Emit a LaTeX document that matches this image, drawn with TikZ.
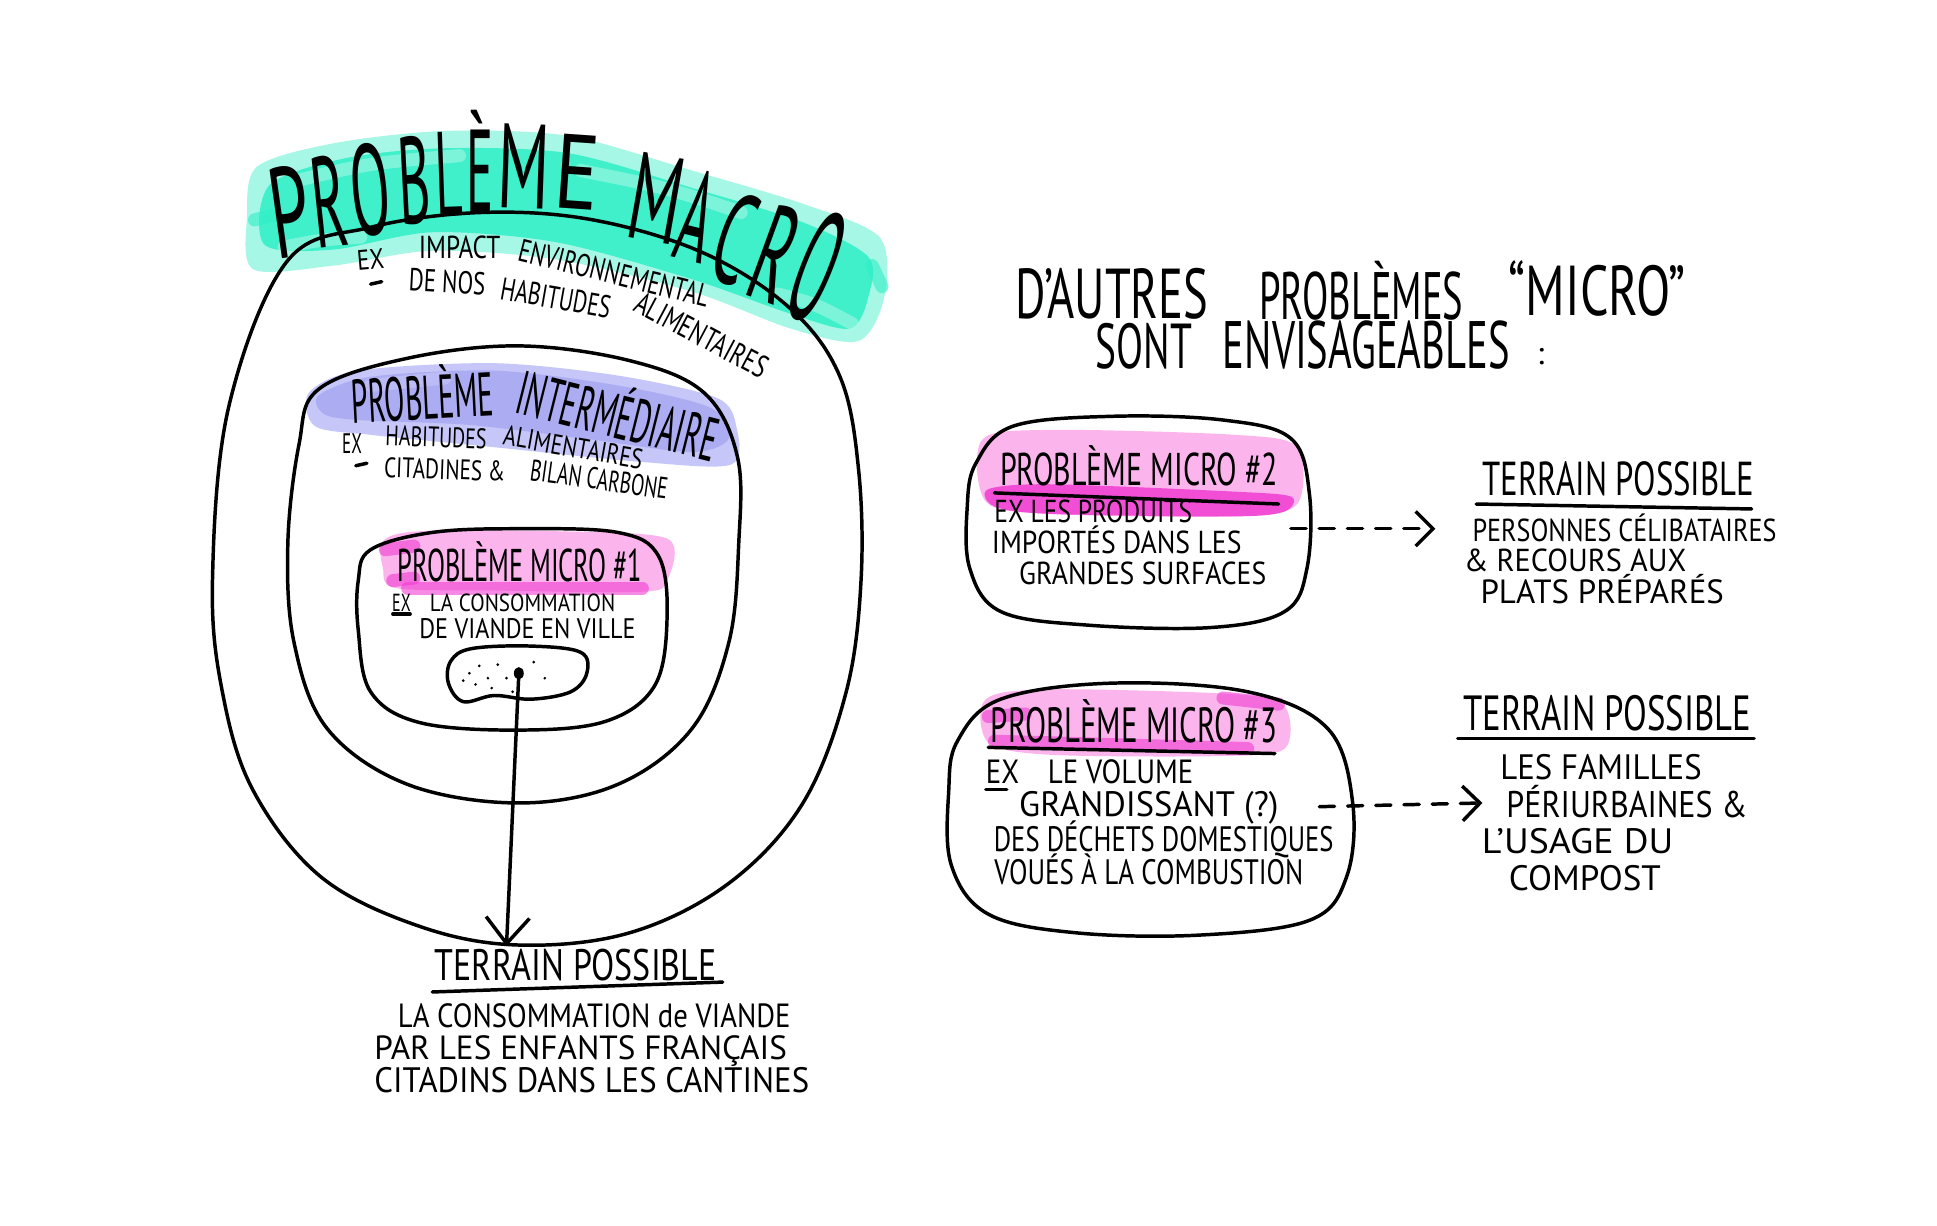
\documentclass[tikz,border=0pt]{standalone}
\usepackage{graphicx}
\usepackage{fontspec}
\setmainfont{PT Sans}
\usetikzlibrary{arrows.meta,calc}
\newlength\upx \setlength\upx{0.1mm}
\newcommand{\hwt}[3]{\resizebox{#1\upx}{#2\upx}{\smash{#3}\vphantom{X}}}
\definecolor{tealL}{HTML}{A6F7E6}
\definecolor{tealD}{HTML}{2EEFC6}
\definecolor{blueL}{HTML}{C6C6F9}
\definecolor{blueD}{HTML}{9898EE}
\definecolor{pinkL}{HTML}{FBB5EC}
\definecolor{pinkD}{HTML}{F03CD2}
\tikzset{
  ink/.style={draw=black, line width=0.8pt, line cap=round, line join=round},
  hw/.style={inner sep=0pt, outer sep=0pt, text=black},
  streak/.style={line width=3pt, line cap=round, opacity=0.6},
  dasharrow/.style={ink, dash pattern=on 3.5pt off 3pt, -{Straight Barb[length=4pt,width=8pt]}},
  solidarrow/.style={ink, -{Straight Barb[length=6pt,width=10pt]}},
}
\begin{document}
\begin{tikzpicture}[x=0.1mm,y=-0.1mm]
\useasboundingbox (0,0) rectangle (1568,992);
\fill[white] (0,0) rectangle (1568,992);

% ---------- highlight bands ----------
\fill[tealL] plot[smooth cycle, tension=0.5] coordinates {(208,135) (270,116) (360,106) (460,110) (560,138) (650,165) (712,192) (716,240) (695,276) (640,266) (560,236) (450,210) (350,203) (270,215) (205,218) (200,175)};
\fill[tealD, opacity=0.85] plot[smooth cycle, tension=0.5] coordinates {(218,150) (280,128) (360,120) (460,124) (560,152) (650,180) (703,208) (703,240) (688,266) (640,254) (560,226) (450,196) (350,188) (270,202) (214,198)};
\draw[tealL, streak] (245,145) .. controls (300,132) .. (372,126);
\draw[tealL, streak] (470,138) .. controls (540,152) .. (600,172);
\draw[tealL, streak] (230,200) .. controls (260,194) .. (292,192);
\draw[tealL, streak] (630,238) .. controls (660,246) .. (690,262);
\draw[tealD, streak] (206,178) -- (222,174);
\draw[tealD, streak] (706,215) -- (714,232);
\fill[blueL] plot[smooth cycle, tension=0.5] coordinates {(250,318) (290,300) (400,294) (500,304) (580,322) (596,345) (592,376) (520,374) (400,362) (300,352) (255,345)};
\fill[blueD, opacity=0.55] plot[smooth cycle, tension=0.5] coordinates {(258,320) (300,305) (400,300) (500,312) (575,330) (590,355) (560,366) (480,356) (380,344) (290,340) (262,335)};
\draw[blueL, streak] (300,312) -- (360,306);
\fill[pinkL] plot[smooth cycle, tension=0.5] coordinates {(310,438) (340,430) (450,430) (540,436) (540,470) (520,479) (400,478) (320,476) (310,460)};
\draw[pinkD, streak] (312,445) -- (335,442);
\draw[pinkD, streak] (318,470) -- (335,468);
\draw[pinkD, streak] (330,476) -- (520,476);
\fill[pinkL] plot[smooth cycle, tension=0.5] coordinates {(795,356) (850,348) (1000,352) (1050,362) (1050,408) (1000,418) (850,416) (798,406)};
\fill[pinkD, opacity=0.85] plot[smooth cycle, tension=0.5] coordinates {(800,396) (850,392) (1000,398) (1045,402) (1040,414) (1000,418) (850,416) (805,410)};
\fill[pinkL] plot[smooth cycle, tension=0.5] coordinates {(798,566) (850,558) (1000,562) (1040,572) (1040,606) (990,612) (850,611) (800,601)};
\draw[pinkD, streak] (800,580) -- (830,578);
\draw[pinkD, streak] (805,600) -- (1010,606);
\draw[pinkD, streak] (990,565) -- (1035,570);

% ---------- outlines ----------
\draw[ink] plot[smooth cycle, tension=0.6] coordinates {(232,212) (300,184) (390,172) (480,178) (570,205) (640,250) (680,305) (695,380) (697,470) (685,560) (650,650) (590,715) (510,755) (420,765) (340,750) (260,710) (205,640) (180,560) (172,470) (185,330)};
\draw[ink] plot[smooth cycle, tension=0.6] coordinates {(258,315) (330,290) (420,280) (510,292) (570,318) (597,370) (598,440) (590,520) (560,590) (500,635) (420,650) (330,635) (265,590) (238,520) (233,440) (242,360)};
\draw[ink] plot[smooth cycle, tension=0.6] coordinates {(300,445) (350,431) (420,428) (500,431) (533,450) (540,500) (530,555) (490,584) (420,591) (340,585) (300,560) (290,510) (290,470)};
\draw[ink] plot[smooth cycle, tension=0.6] coordinates {(365,535) (382,525) (430,523) (470,528) (475,545) (462,560) (430,566) (400,563) (375,568) (363,553)};
\foreach \px/\py in {380/545, 388/539, 395/549, 403/538, 385/554, 398/557, 410/549, 432/536, 441/549, 375/551, 415/560} {
  \fill[black] (\px,\py) circle[radius=1.2];
}
\draw[ink] plot[smooth cycle, tension=0.6] coordinates {(790,375) (820,345) (900,337) (990,340) (1045,355) (1060,400) (1058,460) (1040,495) (980,508) (880,506) (810,495) (785,460) (783,410)};
\draw[ink] plot[smooth cycle, tension=0.6] coordinates {(775,600) (810,566) (900,553) (1010,560) (1075,590) (1095,650) (1090,710) (1060,745) (970,757) (870,755) (800,740) (770,700) (768,640)};

% ---------- title PROBLEME MACRO ----------
\foreach \ch/\cx/\cy/\cw/\chh/\cr [count=\i] in {P/240/208/32/73/8, R/270/200/28/73/6, O/303/190/32/73/5, B/337/181/26/70/3, L/364/175/22/68/2, È/389/171/22/66/0, M/423/169/42/68/-2, E/465/169/36/60/-4, M/525/195/42/70/-10, A/555/211/26/73/-14, C/584/228/28/73/-18, R/614/243/30/78/-20, O/645/258/30/90/-22} {
  \node[hw, anchor=south, rotate=\cr] (t\i) at (\cx,\cy) {\hwt{\cw}{\chh}{\ch}};
}
\node[hw, rotate=5] (macex) at (300,210) {\hwt{22}{16}{EX}};
\node[hw] (macimp) at (372,200) {\hwt{66}{18}{IMPACT}};
\node[hw, rotate=-14] (macenv) at (497,221) {\hwt{158}{18}{ENVIRONNEMENTAL}};
\draw[ink] (300,230) -- (309,228);
\node[hw, rotate=-3] (macde) at (362,228) {\hwt{62}{18}{DE NOS}};
\node[hw, rotate=-10] (machab) at (450,241) {\hwt{90}{18}{HABITUDES}};
\node[hw, rotate=-28] (macali) at (568,271) {\hwt{118}{18}{ALIMENTAIRES}};

% ---------- intermediate ----------
\node[hw, rotate=3] (intp) at (342,322) {\hwt{115}{35}{PROBLÈME}};
\node[hw, rotate=-14] (inti) at (500,337) {\hwt{165}{35}{INTERMÉDIAIRE}};
\node[hw] (intex) at (285,359) {\hwt{16}{16}{EX}};
\draw[ink] (288,377) -- (297,375);
\node[hw, rotate=-2] (inth1) at (353,354) {\hwt{82}{16}{HABITUDES}};
\node[hw, rotate=-10] (inth2) at (464,362) {\hwt{114}{16}{ALIMENTAIRES}};
\node[hw, rotate=-2] (intc1) at (360,380) {\hwt{98}{16}{CITADINES \&}};
\node[hw, rotate=-8] (intc2) at (485,388) {\hwt{112}{17}{BILAN CARBONE}};

% ---------- micro 1 ----------
\node[hw] (m1t) at (421,458) {\hwt{198}{26}{PROBLÈME MICRO \#1}};
\node[hw] (m1ex) at (325,488) {\hwt{15}{14}{EX}};
\draw[ink] (318,497) -- (332,497);
\node[hw] (m1a) at (423,488) {\hwt{150}{14}{LA CONSOMMATION}};
\node[hw] (m1b) at (427,509) {\hwt{175}{16}{DE VIANDE EN VILLE}};

\coordinate (dot1) at (420,545);
\coordinate (a1end) at (410,766);
\fill[black] (dot1) ellipse[x radius=4, y radius=5];
\draw[solidarrow] (dot1) -- (a1end);

% ---------- terrain 1 ----------
\node[hw] (tp1) at (466,781) {\hwt{228}{25}{TERRAIN POSSIBLE}};
\draw[ink] (350,803) -- (585,795);
\node[hw] (tp1a) at (481,822) {\hwt{318}{19}{LA CONSOMMATION de VIANDE}};
\node[hw] (tp1b) at (470,848) {\hwt{334}{19}{PAR LES ENFANTS FRANÇAIS}};
\node[hw] (tp1c) at (479,874) {\hwt{352}{20}{CITADINS DANS LES CANTINES}};

% ---------- right title ----------
\node[hw] (rt1) at (900,238) {\hwt{156}{40}{D'AUTRES}};
\node[hw] (rt2) at (1102,240) {\hwt{165}{38}{PROBLÈMES}};
\node[hw] (rt3) at (1293,235) {\hwt{143}{40}{“MICRO”}};
\node[hw] (rt4) at (926,280) {\hwt{78}{36}{SONT}};
\node[hw] (rt5) at (1106,279) {\hwt{232}{38}{ENVISAGEABLES}};
\node[hw] (rt6) at (1247,286) {\hwt{6}{18}{:}};

% ---------- micro 2 ----------
\node[hw] (m2t) at (922,380) {\hwt{225}{26}{PROBLÈME MICRO \#2}};
\draw[ink] (805,399) -- (1035,408);
\node[hw] (m2a) at (885,414) {\hwt{160}{18}{EX LES PRODUITS}};
\node[hw] (m2b) at (904,439) {\hwt{202}{18}{IMPORTÉS DANS LES}};
\node[hw] (m2c) at (925,464) {\hwt{200}{18}{GRANDES SURFACES}};
\coordinate (d2s) at (1045,428);
\coordinate (d2e) at (1162,428);
\draw[dasharrow] (d2s) -- (d2e);
\node[hw] (tp2) at (1310,388) {\hwt{220}{27}{TERRAIN POSSIBLE}};
\draw[ink] (1195,408) -- (1418,412);
\node[hw] (tp2a) at (1315,429) {\hwt{246}{18}{PERSONNES CÉLIBATAIRES}};
\node[hw] (tp2b) at (1275,454) {\hwt{180}{18}{\& RECOURS AUX}};
\node[hw] (tp2c) at (1297,479) {\hwt{197}{19}{PLATS PRÉPARÉS}};

% ---------- micro 3 ----------
\node[hw] (m3t) at (918,587) {\hwt{232}{28}{PROBLÈME MICRO \#3}};
\draw[ink] (800,605) -- (1032,610);
\node[hw] (m3a) at (882,625) {\hwt{168}{19}{EX\quad LE VOLUME}};
\draw[ink] (798,639) -- (815,639);
\node[hw] (m3b) at (930,651) {\hwt{210}{20}{GRANDISSANT (?)}};
\node[hw] (m3c) at (942,679) {\hwt{275}{20}{DES DÉCHETS DOMESTIQUES}};
\node[hw] (m3d) at (930,706) {\hwt{250}{20}{VOUÉS À LA COMBUSTION}};
\coordinate (d3s) at (1068,653);
\coordinate (d3e) at (1200,650);
\draw[dasharrow] (d3s) -- (d3e);
\node[hw] (tp3) at (1301,577) {\hwt{233}{28}{TERRAIN POSSIBLE}};
\draw[ink] (1180,598) -- (1420,598);
\node[hw] (tp3a) at (1296,621) {\hwt{163}{20}{LES FAMILLES}};
\node[hw] (tp3b) at (1317,651) {\hwt{195}{21}{PÉRIURBAINES \&}};
\node[hw] (tp3c) at (1277,681) {\hwt{155}{20}{L'USAGE DU}};
\node[hw] (tp3d) at (1283,711) {\hwt{123}{20}{COMPOST}};
\end{tikzpicture}
\end{document}
